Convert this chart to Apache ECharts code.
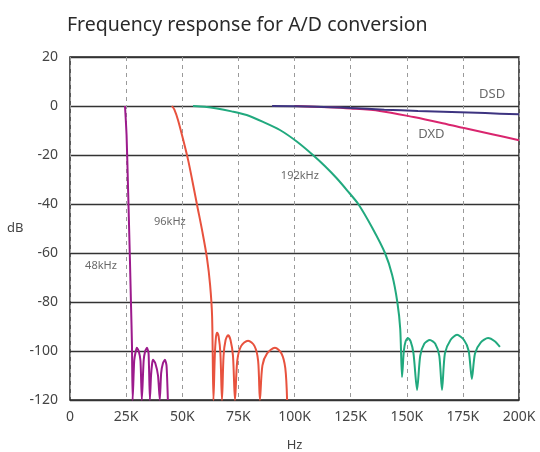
<!DOCTYPE html>
<html>
<head>
<meta charset="utf-8">
<script src="https://cdn.jsdelivr.net/npm/echarts@6/dist/echarts.min.js"></script>
<style>
html,body{margin:0;padding:0;background:#fff;}
#chart{width:540px;height:452px;}
</style>
</head>
<body>
<div id="chart"></div>
<script>
// x values in kHz, y values in dB
var xTicks = [0, 25, 50, 75, 100, 125, 150, 175, 200];
var yTicks = [20, 0, -20, -40, -60, -80, -100, -120];

var freq48 = [24.5,25.2,25.9,26.7,27.2,27.6,27.9, 28.6,29.2,29.8,30.6,31.4,32, 32.8,33.5,34.3,35,35.6, 36.1,36.6,37,38,39.2,40, 40.6,41.4,42.3,43,43.6];
var db48   = [0,-12,-35,-63,-82,-97.5,-120, -104,-100.5,-98.7,-100,-104,-120, -104,-100,-98.7,-101,-120, -110,-105,-103.6,-105,-110,-120, -109,-105,-103.6,-106,-120];

var freq96 = [45.4,46.5,48.1,50.2,52.6,54.6,56.6,59,61,62.4,63.3,63.9, 64.5,65,65.5,66.2,67,67.7, 68.4,69.3,70.4,71.5,72.6,73.5, 74.5,76.2,79.3,82.2,83.8,84.6, 85.7,87.8,91.3,94.2,95.9,96.7];
var db96   = [0,-1.5,-5.7,-13,-22,-31,-40.4,-51.5,-62,-73,-86,-120, -102,-94.5,-92.5,-94,-101,-120, -102,-95.5,-93.6,-95.5,-102,-120, -104,-98,-95.8,-98,-104,-120, -106,-101,-98.7,-101,-107,-120];

var freq192 = [54.8,60,65.5,72,78.7,86,93.5,101,108.2,113.5,118.8,123.5,128.4,134.5,140.3,143.5,145.8,147.1,147.9, 148.7,149.5,150.5,151.7,153,154.6, 156,157.8,160.3,162.7,164.5,165.7, 167,169.5,172.4,175.5,177.6,179, 180.4,183,186.2,189.2,191.5];
var db192   = [0,-0.3,-1,-2.2,-3.7,-6.5,-9.8,-14.5,-20,-24.5,-29.5,-34.5,-40,-49.5,-60,-69,-80,-91,-110.6, -100,-96,-94.7,-96,-101,-115.9, -102,-97,-95.5,-97,-102,-115.9, -101,-95.5,-93.4,-95.5,-100,-111.4, -101,-96.5,-94.7,-96,-98.3];

var freqDSD = [90,110,125,140,155,170,185,200];
var dbDSD   = [0,-0.3,-0.8,-1.5,-2,-2.4,-2.9,-3.4];

var freqDXD = [100,115,125,138,153,165,175,188,200];
var dbDXD   = [0,-0.5,-1,-2,-4.5,-6.8,-8.9,-11.5,-14];

var labelNames = ['DSD', 'DXD', '192kHz', '96kHz', '48kHz'];
var labelX = [188, 161, 102.4, 44.5, 13.8];
var labelY = [4.9, -11.4, -28.6, -47.3, -65.3];
var labelSizes = [13, 13, 11, 11, 11];

function zip(xs, ys) {
  var out = [];
  for (var i = 0; i < xs.length; i++) out.push([xs[i], ys[i]]);
  return out;
}

var chart = echarts.init(document.getElementById('chart'), null, {renderer: 'canvas'});

function lineSeries(name, xs, ys, color, smooth) {
  return {
    name: name,
    type: 'line',
    data: zip(xs, ys),
    showSymbol: false,
    smooth: smooth,
    smoothMonotone: 'none',
    lineStyle: {color: color, width: 2},
    itemStyle: {color: color},
    clip: true,
    z: 3
  };
}

var labelData = [];
for (var i = 0; i < labelNames.length; i++) {
  labelData.push({
    value: [labelX[i], labelY[i]],
    name: labelNames[i],
    label: {fontSize: labelSizes[i]}
  });
}

chart.setOption({
  animation: false,
  backgroundColor: '#ffffff',
  title: {
    text: 'Frequency response for A/D conversion',
    left: 62,
    top: 10,
    textStyle: {
      fontFamily: 'Noto Sans',
      fontSize: 19.5,
      fontWeight: 'normal',
      color: '#2a2a2a'
    }
  },
  grid: {
    left: 70,
    right: 21,
    top: 57,
    bottom: 52,
    containLabel: false,
    outerBoundsMode: 'none',
    show: true,
    borderColor: '#222222',
    borderWidth: 1.5,
    backgroundColor: 'transparent'
  },
  xAxis: {
    type: 'value',
    min: xTicks[0],
    max: xTicks[xTicks.length - 1],
    interval: 25,
    name: 'Hz',
    nameLocation: 'middle',
    nameGap: 39,
    nameTextStyle: {fontFamily: 'Noto Sans', fontSize: 13, color: '#444'},
    axisLine: {show: false},
    axisTick: {show: false},
    axisLabel: {
      fontFamily: 'Noto Sans',
      fontSize: 14,
      color: '#444',
      margin: 10,
      formatter: function (v) { return v === 0 ? '0' : v + 'K'; }
    },
    splitLine: {show: true, lineStyle: {color: '#9a9a9a', type: [4, 4], width: 1}}
  },
  yAxis: {
    type: 'value',
    min: yTicks[yTicks.length - 1],
    max: yTicks[0],
    interval: 20,
    name: 'dB',
    nameLocation: 'middle',
    nameRotate: 0,
    nameGap: 35,
    nameTextStyle: {fontFamily: 'Noto Sans', fontSize: 13, color: '#444'},
    axisLine: {show: false},
    axisTick: {show: false},
    axisLabel: {fontFamily: 'Noto Sans', fontSize: 14, color: '#444', margin: 12},
    splitLine: {show: true, lineStyle: {color: '#333333', width: 1.3}}
  },
  series: [
    lineSeries('48kHz', freq48, db48, '#9c1a8c', 0.2),
    lineSeries('96kHz', freq96, db96, '#e8523e', 0.3),
    lineSeries('192kHz', freq192, db192, '#21a97e', 0.25),
    lineSeries('DXD', freqDXD, dbDXD, '#d9256e', 0.3),
    lineSeries('DSD', freqDSD, dbDSD, '#3d3480', 0.3),
    {
      type: 'scatter',
      data: labelData,
      symbolSize: 0,
      silent: true,
      z: 5,
      label: {
        show: true,
        position: 'inside',
        formatter: '{b}',
        fontFamily: 'Noto Sans',
        color: '#444444'
      }
    }
  ]
});
</script>
</body>
</html>
